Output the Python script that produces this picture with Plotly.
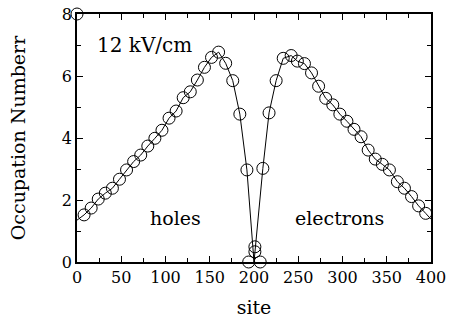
import plotly.graph_objects as go

# circle data (simulation)
left_sites = [8, 16, 24, 32, 40, 48, 56, 64, 72, 80, 88, 96, 104, 112, 120, 128, 136, 144, 152, 160, 168, 176, 184, 192]
left_vals = [1.52, 1.74, 2.03, 2.22, 2.38, 2.67, 2.97, 3.24, 3.45, 3.74, 3.99, 4.25, 4.64, 4.87, 5.30, 5.49, 5.87, 6.28, 6.60, 6.77, 6.41, 5.85, 4.77, 2.97]
right_sites = [210, 217, 225, 233, 242, 249, 257, 265, 273, 281, 289, 297, 305, 313, 321, 329, 337, 345, 353, 362, 370, 378, 386, 394]
right_vals = [3.02, 4.81, 5.85, 6.57, 6.66, 6.48, 6.40, 6.10, 5.67, 5.28, 5.07, 4.77, 4.54, 4.28, 4.04, 3.61, 3.32, 3.15, 2.97, 2.59, 2.38, 2.11, 1.81, 1.57]
center_sites = [194, 201, 201, 207, 0]
center_vals = [0.0, 0.49, 0.33, 0.0, 8.0]

# line end points
line_start = (0, 1.35)
line_mid = (200, 0.0)
line_end = (400, 1.38)

line_x = [line_start[0]] + left_sites + [line_mid[0]] + right_sites + [line_end[0]]
line_y = [line_start[1]] + left_vals + [line_mid[1]] + right_vals + [line_end[1]]

mark_x = left_sites + right_sites + center_sites
mark_y = left_vals + right_vals + center_vals

FONT = "DejaVu Serif"

fig = go.Figure()
fig.add_trace(go.Scatter(x=line_x, y=line_y, mode="lines",
                         line=dict(color="black", width=1), cliponaxis=False,
                         showlegend=False, hoverinfo="skip"))
fig.add_trace(go.Scatter(x=mark_x, y=mark_y, mode="markers",
                         marker=dict(symbol="circle-open", size=12, color="black",
                                     line=dict(width=1, color="black")),
                         cliponaxis=False, showlegend=False))

axis_common = dict(showline=True, linecolor="black", linewidth=1.5, mirror="ticks",
                   ticks="inside", ticklen=6, tickwidth=1, tickcolor="black",
                   showgrid=False, zeroline=False, automargin=False,
                   ticklabeloverflow="allow",
                   tickfont=dict(family=FONT, size=16, color="black"))

fig.update_xaxes(range=[0, 400], dtick=50, tick0=0,
                 minor=dict(dtick=25, ticks="inside", ticklen=4, tickwidth=1, tickcolor="black"),
                 title=dict(text="site", font=dict(family=FONT, size=19, color="black"), standoff=15),
                 **axis_common)
fig.update_yaxes(range=[0, 8], dtick=2, tick0=0,
                 minor=dict(dtick=1, ticks="inside", ticklen=4, tickwidth=1, tickcolor="black"),
                 title=dict(text="Occupation Numberr", font=dict(family=FONT, size=19, color="black"), standoff=31),
                 **axis_common)

fig.add_annotation(x=0.051, y=0.875, xref="paper", yref="paper", text="12 kV/cm",
                   showarrow=False, xanchor="left", yanchor="middle",
                   font=dict(family=FONT, size=20, color="black"))
fig.add_annotation(x=0.20, y=0.177, xref="paper", yref="paper", text="holes",
                   showarrow=False, xanchor="left", yanchor="middle",
                   font=dict(family=FONT, size=19, color="black"))
fig.add_annotation(x=0.61, y=0.177, xref="paper", yref="paper", text="electrons",
                   showarrow=False, xanchor="left", yanchor="middle",
                   font=dict(family=FONT, size=19, color="black"))

fig.update_layout(width=449, height=325, plot_bgcolor="white", paper_bgcolor="white",
                  margin=dict(l=77, r=18, t=14, b=63))

fig.write_html("out.html", config={"displayModeBar": False},
               post_script="document.body.style.margin='0px';")
